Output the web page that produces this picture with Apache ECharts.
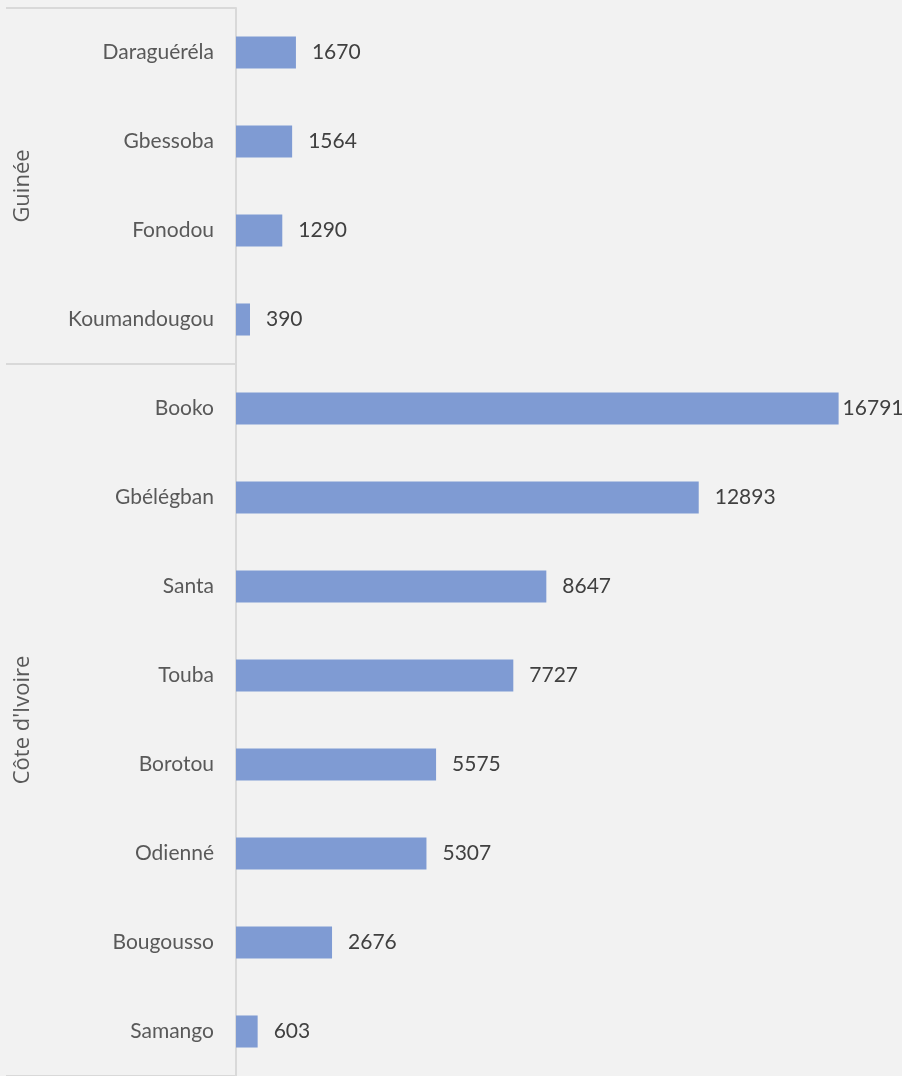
<!DOCTYPE html>
<html>
<head>
<meta charset="utf-8">
<script src="https://cdn.jsdelivr.net/npm/echarts@6/dist/echarts.min.js"></script>
<style>
  html, body { margin: 0; padding: 0; background: #f2f2f2; }
  #chart { width: 902px; height: 1076px; }
</style>
</head>
<body>
<div id="chart"></div>
<script>
// groupes (pays) et localités
var guineeNames = ['Daraguéréla', 'Gbessoba', 'Fonodou', 'Koumandougou'];
var guineeValues = [1670, 1564, 1290, 390];
var civNames = ['Booko', 'Gbélégban', 'Santa', 'Touba', 'Borotou', 'Odienné', 'Bougousso', 'Samango'];
var civValues = [16791, 12893, 8647, 7727, 5575, 5307, 2676, 603];
var groupNames = ['Guinée', "Côte d'Ivoire"];

var categories = guineeNames.concat(civNames);
var values = guineeValues.concat(civValues);
var nGui = guineeNames.length;
var nAll = categories.length;
var maxVal = Math.max.apply(null, values);

var myChart = echarts.init(document.getElementById('chart'));

var option = {
    backgroundColor: '#f2f2f2',
    animation: false,
    grid: {
        left: 236,
        right: 20,
        top: 8,
        bottom: -4,
        containLabel: false
    },
    xAxis: {
        type: 'value',
        min: 0,
        max: 18000,
        show: false
    },
    yAxis: [
        {
            type: 'category',
            inverse: true,
            data: categories,
            axisLine: { show: true, lineStyle: { color: '#d9d9d9', width: 2 } },
            axisTick: { show: false },
            axisLabel: {
                color: '#595959',
                fontFamily: 'Lato',
                fontSize: 21,
                margin: 22
            }
        },
        {
            // axe des groupes : séparateurs + noms de pays
            type: 'value',
            inverse: true,
            min: 0,
            max: nAll,
            position: 'left',
            offset: 230,
            axisLine: { show: false },
            splitLine: { show: false },
            axisTick: {
                show: true,
                inside: true,
                length: 230,
                customValues: [0, nGui, nAll],
                lineStyle: { color: '#d9d9d9', width: 2 }
            },
            axisLabel: {
                inside: true,
                rotate: 90,
                margin: 6,
                color: '#595959',
                fontFamily: 'Open Sans',
                fontSize: 22,
                customValues: [nGui / 2, nGui + (nAll - nGui) / 2],
                formatter: function (v) {
                    if (v === nGui / 2) return groupNames[0];
                    return groupNames[1];
                }
            }
        }
    ],
    series: [
        {
            type: 'bar',
            yAxisIndex: 0,
            barWidth: '36%',
            itemStyle: { color: '#7f9bd3' },
            data: values.map(function (v) {
                var item = { value: v };
                if (v === maxVal) {
                    item.label = { distance: 4 };
                }
                return item;
            }),
            label: {
                show: true,
                position: 'right',
                distance: 16,
                color: '#404040',
                fontFamily: 'Lato',
                fontSize: 21
            }
        }
    ]
};

myChart.setOption(option);
</script>
</body>
</html>
